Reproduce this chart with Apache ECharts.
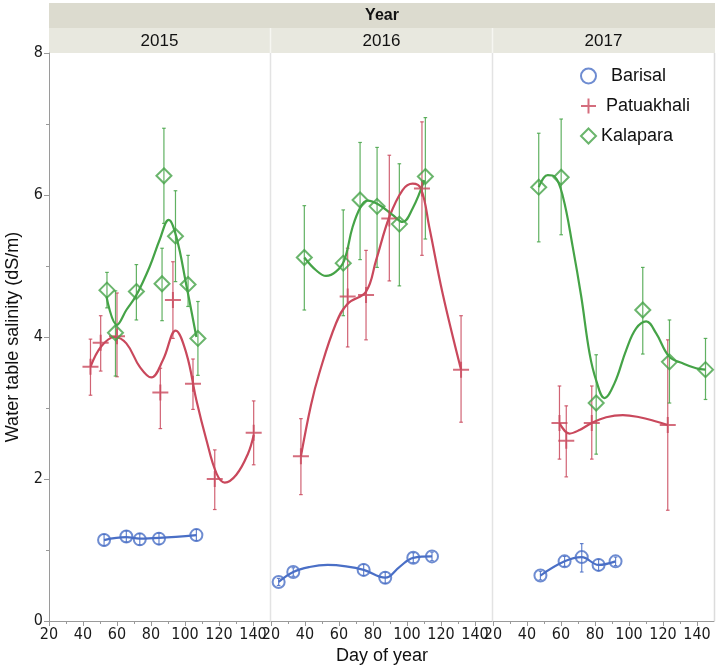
<!DOCTYPE html>
<html>
<head>
<meta charset="utf-8">
<script src="https://cdn.jsdelivr.net/npm/echarts@6/dist/echarts.min.js"></script>
<style>html,body{margin:0;padding:0;background:#fff}#chart{width:717px;height:669px}</style>
</head>
<body>
<div id="chart"></div>
<script>
// ---------- data (x = day of year, y = salinity, lo, hi of error bar) ----------
const years = ['2015', '2016', '2017'];
const sites = ['Barisal', 'Patuakhali', 'Kalapara'];
const xTickValues = [20, 40, 60, 80, 100, 120, 140];
const xMinorValues = [30, 50, 70, 90, 110, 130];
const yTickValues = [0, 2, 4, 6, 8];

const barisal2015 = [[52.4,1.14,1.06,1.22],[65.5,1.19,1.11,1.27],[73.4,1.15,1.07,1.23],[84.7,1.16,1.08,1.24],[106.7,1.21,1.13,1.29]];
const patuakhali2015 = [[44.4,3.58,3.18,3.97],[50.4,3.92,3.52,4.30],[60.0,4.01,3.44,4.62],[85.5,3.22,2.71,3.56],[92.9,4.52,3.98,5.06],[104.7,3.34,2.98,3.69],[117.5,2.00,1.57,2.41],[140.4,2.65,2.20,3.10]];
const kalapara2015 = [[54.1,4.66,4.41,4.91],[59.1,4.06,3.45,4.65],[71.4,4.64,4.24,5.02],[86.5,4.75,4.23,5.25],[87.6,6.27,5.60,6.94],[94.4,5.42,4.78,6.06],[101.8,4.74,4.43,5.15],[107.6,3.98,3.46,4.50]];

const barisal2016 = [[24.5,0.55,0.50,0.60],[33.1,0.69,0.63,0.75],[74.5,0.72,0.64,0.80],[87.2,0.61,0.53,0.69],[103.7,0.89,0.82,0.96],[114.7,0.91,0.85,0.97]];
const patuakhali2016 = [[37.6,2.32,1.78,2.85],[65.1,4.57,3.86,5.25],[75.9,4.59,3.96,5.22],[89.6,5.67,4.79,6.56],[108.8,6.09,5.15,7.03],[131.8,3.54,2.80,4.30]];
const kalapara2016 = [[39.6,5.12,4.38,5.85],[62.5,5.04,4.30,5.79],[72.4,5.93,5.09,6.74],[82.4,5.84,4.98,6.67],[95.5,5.59,4.72,6.44],[110.8,6.26,5.38,7.09]];

const barisal2017 = [[47.9,0.64,0.58,0.70],[62.1,0.84,0.77,0.91],[72.2,0.90,0.69,1.09],[82.1,0.79,0.71,0.87],[92.1,0.84,0.78,0.90]];
const patuakhali2017 = [[59.1,2.79,2.28,3.31],[63.1,2.54,2.03,3.03],[78.1,2.79,2.28,3.31],[122.8,2.76,1.56,3.96]];
const kalapara2017 = [[46.9,6.11,5.34,6.87],[60.1,6.25,5.44,7.07],[80.7,3.07,2.35,3.75],[108.1,4.38,3.76,4.98],[123.8,3.65,3.07,4.24],[145.0,3.54,3.12,3.98]];

// smoothing-curve samples
const barisalFit2015 = [[52.4,1.14],[65.5,1.18],[73.4,1.16],[84.7,1.17],[106.7,1.21]];
const patuakhaliFit2015 = [[44.4,3.58],[50.8,3.87],[58.6,4.00],[65.5,3.91],[73.4,3.58],[80.2,3.43],[87.1,3.68],[94.5,4.09],[100.8,3.77],[106.7,3.11],[112.6,2.55],[118.5,2.08],[123.4,1.95],[130.2,2.06],[137.1,2.36],[140.4,2.62]];
const kalaparaFit2015 = [[53.8,4.57],[60.0,4.17],[65.5,4.38],[71.4,4.59],[79.2,4.99],[85.1,5.37],[90.4,5.65],[94.9,5.41],[100.8,4.73],[106.7,4.00]];

const barisalFit2016 = [[24.5,0.55],[33.1,0.69],[42.6,0.76],[53.3,0.79],[64.1,0.77],[74.5,0.72],[87.2,0.61],[95.5,0.76],[103.7,0.89],[114.7,0.91]];
const patuakhaliFit2016 = [[37.6,2.32],[43.5,3.04],[48.4,3.49],[58.2,4.19],[65.1,4.47],[75.9,4.64],[81.8,5.08],[89.6,5.69],[97.4,6.07],[103.3,6.16],[108.2,6.09],[113.1,5.55],[120.9,4.62],[131.8,3.54]];
const kalaparaFit2016 = [[39.6,5.12],[46.5,4.94],[52.4,4.86],[58.2,4.92],[63.1,5.08],[68.0,5.55],[72.9,5.84],[76.8,5.92],[83.7,5.86],[91.5,5.72],[97.4,5.62],[103.3,5.81],[110.2,6.21]];

const barisalFit2017 = [[47.9,0.64],[62.1,0.84],[72.2,0.90],[82.1,0.79],[92.1,0.84]];
const patuakhaliFit2017 = [[59.1,2.79],[65.0,2.64],[70.9,2.69],[78.1,2.79],[86.6,2.87],[96.4,2.90],[106.2,2.87],[116.0,2.81],[122.8,2.76]];
const kalaparaFit2017 = [[46.9,6.11],[52.2,6.28],[56.2,6.26],[61.1,5.98],[66.9,5.27],[71.9,4.57],[76.8,3.77],[80.7,3.39],[85.6,3.14],[91.5,3.35],[98.4,3.82],[104.2,4.12],[110.1,4.22],[116.0,4.05],[123.8,3.72],[131.6,3.63],[139.5,3.56],[145.0,3.54]];

// ---------- styling ----------
const FONT = "'Liberation Sans', Arial, Helvetica, sans-serif";
const TICKFONT = "'Liberation Sans Narrow', 'DejaVu Sans Condensed', 'Liberation Sans', sans-serif";
const colors = { Barisal: '#4a6fc6', Patuakhali: '#c9485c', Kalapara: '#45a347' };
const symbols = {
  Barisal: { symbol: 'circle', size: 12 },
  Patuakhali: { symbol: 'path://M0,8L16,8M8,0L8,16', size: 16 },
  Kalapara: { symbol: 'diamond', size: 15 }
};
const points = {
  '2015': { Barisal: barisal2015, Patuakhali: patuakhali2015, Kalapara: kalapara2015 },
  '2016': { Barisal: barisal2016, Patuakhali: patuakhali2016, Kalapara: kalapara2016 },
  '2017': { Barisal: barisal2017, Patuakhali: patuakhali2017, Kalapara: kalapara2017 }
};
const fits = {
  '2015': { Barisal: barisalFit2015, Patuakhali: patuakhaliFit2015, Kalapara: kalaparaFit2015 },
  '2016': { Barisal: barisalFit2016, Patuakhali: patuakhaliFit2016, Kalapara: kalaparaFit2016 },
  '2017': { Barisal: barisalFit2017, Patuakhali: patuakhaliFit2017, Kalapara: kalaparaFit2017 }
};

const GRID_LEFT = [49, 271, 493], GRID_W = 221, GRID_TOP = 53, GRID_H = 568;

const grids = [], xAxes = [], yAxes = [], series = [];

function errRender(params, api) {
  const x = api.value(0);
  const pLo = api.coord([x, api.value(2)]);
  const pHi = api.coord([x, api.value(3)]);
  const c = api.visual('color');
  const st = { stroke: c, lineWidth: 1.2, opacity: 0.85 };
  const cap = 1.8;
  return {
    type: 'group',
    children: [
      { type: 'line', shape: { x1: pLo[0], y1: pLo[1], x2: pHi[0], y2: pHi[1] }, style: st },
      { type: 'line', shape: { x1: pHi[0] - cap, y1: pHi[1], x2: pHi[0] + cap, y2: pHi[1] }, style: st },
      { type: 'line', shape: { x1: pLo[0] - cap, y1: pLo[1], x2: pLo[0] + cap, y2: pLo[1] }, style: st }
    ]
  };
}

years.forEach((yr, i) => {
  grids.push({ left: GRID_LEFT[i], top: GRID_TOP, width: GRID_W, height: GRID_H, show: false });
  // main x axis (major ticks + labels)
  xAxes.push({
    type: 'value', gridIndex: i, min: 20, max: 150,
    axisLine: { show: true, lineStyle: { color: '#9a9a9a', width: 1 } },
    axisTick: { show: true, customValues: xTickValues, length: 5, lineStyle: { color: '#9a9a9a' } },
    axisLabel: { customValues: xTickValues, fontSize: 16, color: '#1a1a1a', margin: 6, fontFamily: TICKFONT },
    splitLine: { show: false }
  });
  // minor ticks axis
  xAxes.push({
    type: 'value', gridIndex: i, min: 20, max: 150, position: 'bottom',
    axisLine: { show: false },
    axisTick: { show: true, customValues: xMinorValues, length: 3, lineStyle: { color: '#9a9a9a' } },
    axisLabel: { show: false },
    splitLine: { show: false }
  });
  yAxes.push({
    type: 'value', gridIndex: i, min: 0, max: 8, interval: 2,
    show: i === 0,
    axisLine: { show: true, lineStyle: { color: '#9a9a9a', width: 1 } },
    axisTick: { show: true, length: 5, lineStyle: { color: '#9a9a9a' } },
    minorTick: { show: true, splitNumber: 2, length: 3, lineStyle: { color: '#9a9a9a' } },
    axisLabel: { customValues: yTickValues, fontSize: 16, color: '#1a1a1a', margin: 6, fontFamily: TICKFONT },
    splitLine: { show: false }, minorSplitLine: { show: false }
  });

  sites.forEach(site => {
    const col = colors[site];
    series.push({
      name: site + ' error', type: 'custom', xAxisIndex: 2 * i, yAxisIndex: i,
      renderItem: errRender, encode: { x: 0, y: 1 },
      itemStyle: { color: col }, data: points[yr][site], z: 2, silent: true
    });
    series.push({
      name: site + ' fit', type: 'line', xAxisIndex: 2 * i, yAxisIndex: i,
      data: fits[yr][site], smooth: 0.4, showSymbol: false, symbol: 'none',
      lineStyle: { color: col, width: 2.2 }, itemStyle: { color: col }, z: 3, silent: true
    });
    series.push({
      name: site, type: 'scatter', xAxisIndex: 2 * i, yAxisIndex: i,
      data: points[yr][site].map(d => [d[0], d[1]]),
      symbol: symbols[site].symbol, symbolSize: symbols[site].size,
      itemStyle: { color: 'rgba(0,0,0,0)', borderColor: col, borderWidth: 2 }, z: 4
    });
  });
});

const chart = echarts.init(document.getElementById('chart'), null, { renderer: 'canvas' });
chart.setOption({
  animation: false,
  backgroundColor: '#ffffff',
  textStyle: { fontFamily: FONT },
  grid: grids,
  xAxis: xAxes,
  yAxis: yAxes,
  legend: {
    orient: 'vertical', left: 575, top: 62, itemWidth: 15, itemHeight: 15, itemGap: 12,
    data: sites,
    formatter: n => (n === 'Barisal' ? '  ' + n : n === 'Patuakhali' ? ' ' + n : n),
    textStyle: { fontSize: 18, color: '#111', fontFamily: FONT }
  },
  graphic: [
    { type: 'rect', shape: { x: 49, y: 3, width: 666, height: 25 }, style: { fill: '#dcdbcf' }, silent: true },
    { type: 'rect', shape: { x: 49, y: 28, width: 666, height: 25 }, style: { fill: '#e8e8df' }, silent: true },
    { type: 'line', shape: { x1: 270.5, y1: 28, x2: 270.5, y2: 53 }, style: { stroke: '#f6f6f1', lineWidth: 1.5 }, silent: true },
    { type: 'line', shape: { x1: 492.5, y1: 28, x2: 492.5, y2: 53 }, style: { stroke: '#f6f6f1', lineWidth: 1.5 }, silent: true },
    { type: 'line', shape: { x1: 270.5, y1: 53, x2: 270.5, y2: 621 }, style: { stroke: '#e3e3e3', lineWidth: 1.5 }, silent: true, z: -1 },
    { type: 'line', shape: { x1: 492.5, y1: 53, x2: 492.5, y2: 621 }, style: { stroke: '#e3e3e3', lineWidth: 1.5 }, silent: true, z: -1 },
    { type: 'line', shape: { x1: 714.5, y1: 53, x2: 714.5, y2: 621 }, style: { stroke: '#dcdcdc', lineWidth: 1.5 }, silent: true, z: -1 },
    { type: 'text', x: 382, y: 16, style: { text: 'Year', fontSize: 16, fontWeight: 'bold', fill: '#111', align: 'center', verticalAlign: 'middle', fontFamily: FONT } },
    { type: 'text', x: 159.5, y: 41, style: { text: years[0], fontSize: 17, fill: '#111', align: 'center', verticalAlign: 'middle', fontFamily: FONT } },
    { type: 'text', x: 381.5, y: 41, style: { text: years[1], fontSize: 17, fill: '#111', align: 'center', verticalAlign: 'middle', fontFamily: FONT } },
    { type: 'text', x: 603.5, y: 41, style: { text: years[2], fontSize: 17, fill: '#111', align: 'center', verticalAlign: 'middle', fontFamily: FONT } },
    { type: 'text', x: 382, y: 656, style: { text: 'Day of year', fontSize: 18, fill: '#111', align: 'center', verticalAlign: 'middle', fontFamily: FONT } },
    { type: 'text', x: 13, y: 337, rotation: Math.PI / 2, style: { text: 'Water table salinity (dS/m)', fontSize: 18, fill: '#111', align: 'center', verticalAlign: 'middle', fontFamily: FONT } }
  ],
  series: series
});
</script>
</body>
</html>
